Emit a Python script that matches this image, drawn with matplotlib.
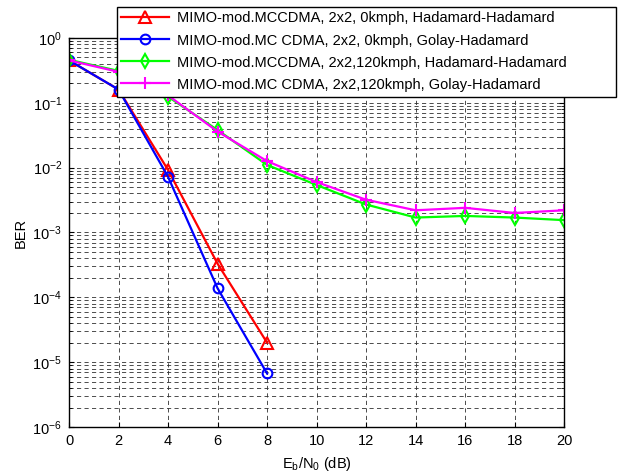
import matplotlib
matplotlib.use("Agg")
import matplotlib.pyplot as plt
from matplotlib.patches import Rectangle
from matplotlib.ticker import FixedLocator, NullFormatter

plt.rcParams['font.family'] = ['Liberation Sans', 'DejaVu Sans']

ebn0 = [0, 2, 4, 6, 8, 10, 12, 14, 16, 18, 20]

# 0 kmph curves stop at 8 dB
ber_hh_0 = [0.45, 0.16, 0.0092, 3.3e-4, 2.0e-5]
ber_gh_0 = [0.45, 0.16, 0.0072, 1.38e-4, 6.7e-6]
ber_hh_120 = [0.46, 0.31, 0.124, 0.038, 0.011, 0.0054, 0.0027, 0.0017, 0.0018, 0.0017, 0.00155]
ber_gh_120 = [0.45, 0.30, 0.13, 0.036, 0.0126, 0.006, 0.0032, 0.0022, 0.0024, 0.0020, 0.0022]

labels = [
    'MIMO-mod.MCCDMA, 2x2, 0kmph, Hadamard-Hadamard',
    'MIMO-mod.MC CDMA, 2x2, 0kmph, Golay-Hadamard',
    'MIMO-mod.MCCDMA, 2x2,120kmph, Hadamard-Hadamard',
    'MIMO-mod.MC CDMA, 2x2,120kmph, Golay-Hadamard',
]

fig = plt.figure(figsize=(6.22, 4.74), dpi=100)
ax = fig.add_axes([0.111, 0.099, 0.796, 0.821])

ax.semilogy(ebn0[:len(ber_hh_0)], ber_hh_0, color='red', marker='^', ms=8, mfc='none', mew=1.5, lw=1.6, label=labels[0])
ax.semilogy(ebn0[:len(ber_gh_0)], ber_gh_0, color='blue', marker='o', ms=7, mfc='none', mew=1.5, lw=1.6, label=labels[1])
ax.semilogy(ebn0, ber_hh_120, color='#00ff00', marker='d', ms=7, mfc='none', mew=1.5, lw=1.6, label=labels[2])
ax.semilogy(ebn0, ber_gh_120, color='magenta', marker='+', ms=9, mew=1.5, lw=1.6, label=labels[3])

ax.set_xlim(0, 20)
ax.set_ylim(1e-6, 1)
ax.set_xticks(range(0, 21, 2))
# only the decades inside the limits, so no stray tick labels outside
ax.yaxis.set_major_locator(FixedLocator([10.0 ** e for e in range(-6, 1)]))
ax.yaxis.set_minor_locator(FixedLocator([m * 10.0 ** e for e in range(-6, 0) for m in range(2, 10)]))
ax.yaxis.set_minor_formatter(NullFormatter())

ax.tick_params(which='both', direction='in', top=True, right=True, labelsize=10.5, pad=5)
ax.tick_params(which='minor', length=2)
ax.grid(True, which='major', color='#303030', linestyle=(0, (5, 4)), linewidth=0.6)
ax.grid(True, which='minor', axis='y', color='#303030', linestyle=(0, (5, 4)), linewidth=0.6)
for s in ax.spines.values():
    s.set_linewidth(1.0)

ax.set_xlabel('E$_\\mathregular{b}$/N$_\\mathregular{0}$ (dB)', fontsize=10.5, labelpad=5)
ax.set_ylabel('BER', fontsize=10.5, labelpad=3)

# legend box is wider than its entries, so the frame is drawn separately
box = Rectangle((0.188, 1 - 97 / 474), (616 - 117) / 622, 90 / 474, transform=fig.transFigure,
                facecolor='white', edgecolor='black', linewidth=1.0, zorder=10)
fig.add_artist(box)
handles, _ = ax.get_legend_handles_labels()
leg = fig.legend(handles, labels, loc='upper left', bbox_to_anchor=(0.188, 0.985),
                 fontsize=10.5, frameon=False, borderaxespad=0, handlelength=3.3,
                 handletextpad=0.5, labelspacing=0.55, borderpad=0.3)
leg.set_zorder(11)

fig.savefig('out.png', dpi=100)
